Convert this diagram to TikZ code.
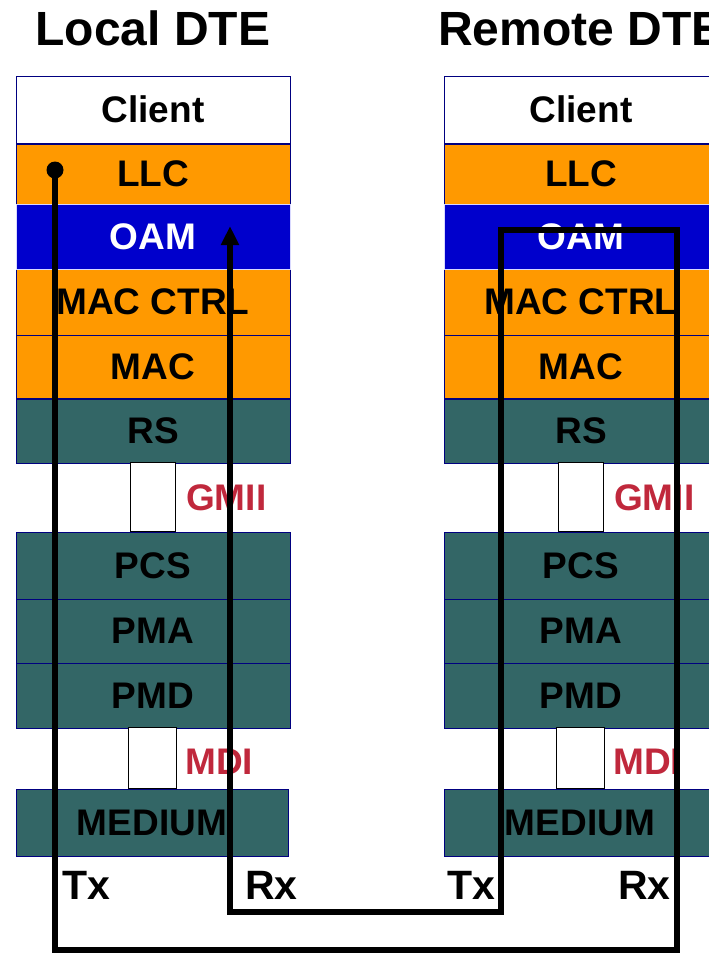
\documentclass[tikz,border=0pt]{standalone}
\usepackage{fontspec}
\setmainfont{Liberation Sans}
\usetikzlibrary{arrows.meta}
\definecolor{ora}{HTML}{FF9900}
\definecolor{oamblue}{HTML}{0000CC}
\definecolor{teal}{HTML}{336666}
\definecolor{navy}{HTML}{000080}
\definecolor{ifred}{HTML}{C0283C}
\tikzset{
  layer/.style={draw=navy, line width=1pt, minimum width=274pt, inner sep=0pt,
    font=\fontsize{37}{37}\selectfont\bfseries},
  ifbox/.style={draw=black, line width=1pt, fill=white, inner sep=0pt},
  iflabel/.style={text=ifred, font=\fontsize{37}{37}\selectfont\bfseries, anchor=base west, inner sep=0pt},
  title/.style={font=\fontsize{48}{48}\selectfont\bfseries, anchor=base, inner sep=0pt},
  port/.style={font=\fontsize{41}{41}\selectfont\bfseries, anchor=base west, inner sep=0pt},
  wire/.style={line width=5.5pt, line join=miter}
}
\begin{document}
\begin{tikzpicture}[x=1pt,y=-1pt]
\useasboundingbox (0,0) rectangle (709,953);
\fill[white] (0,0) rectangle (709,953);
\node[title] (tl) at (153,45) {Local DTE};
\node[title] (tr) at (581,45) {Remote DTE};
\foreach \s/\dx in {L/0,R/428}{
  \node[layer, fill=white, minimum height=67pt] (\s-client) at (153+\dx,109.5) {Client};
  \node[layer, fill=ora, minimum height=60pt] (\s-llc) at (153+\dx,174) {LLC};
  \node[layer, fill=ora, minimum height=67pt] (\s-macctrl) at (153+\dx,302) {MAC CTRL};
  \node[layer, fill=ora, minimum height=63pt] (\s-mac) at (153+\dx,367) {MAC};
  \node[layer, fill=oamblue, draw=white!85!blue, text=white, minimum height=65pt] (\s-oam) at (153+\dx,236.5) {OAM};
  \node[layer, fill=teal, minimum height=64pt] (\s-rs) at (153+\dx,431) {RS};
  \node[ifbox, minimum width=45pt, minimum height=69pt] (\s-gmiibox) at (152.5+\dx,496.5) {};
  \node[iflabel] (\s-gmii) at (186+\dx,510) {GMII};
  \node[layer, fill=teal, minimum height=67pt] (\s-pcs) at (153+\dx,565.5) {PCS};
  \node[layer, fill=teal, minimum height=64pt] (\s-pma) at (153+\dx,631) {PMA};
  \node[layer, fill=teal, minimum height=65pt] (\s-pmd) at (153+\dx,695.5) {PMD};
  \node[ifbox, minimum width=48pt, minimum height=61pt] (\s-mdibox) at (152+\dx,757.5) {};
  \node[iflabel] (\s-mdi) at (185+\dx,774) {MDI};
  \node[layer, fill=teal, minimum height=67pt, minimum width=272pt] (\s-medium) at (152+\dx,822.5) {MEDIUM};
}
\node[port] (ltx) at (62,899) {Tx};
\node[port] (lrx) at (245,899) {Rx};
\node[port] (rtx) at (447,899) {Tx};
\node[port] (rrx) at (618,899) {Rx};
% wire corner coordinates
\coordinate (src) at (55,170);
\coordinate (c1) at (55,950);
\coordinate (c2) at (677,950);
\coordinate (c3) at (677,230);
\coordinate (c4) at (501,230);
\coordinate (c5) at (501,912);
\coordinate (c6) at (230,912);
\coordinate (dst) at (230,226);
\fill (src) circle (8.5pt);
\draw[wire, -{Triangle[width=17pt,length=19pt]}] (src) -- (c1) -- (c2) -- (c3) -- (c4) -- (c5) -- (c6) -- (dst);
\end{tikzpicture}
\end{document}
